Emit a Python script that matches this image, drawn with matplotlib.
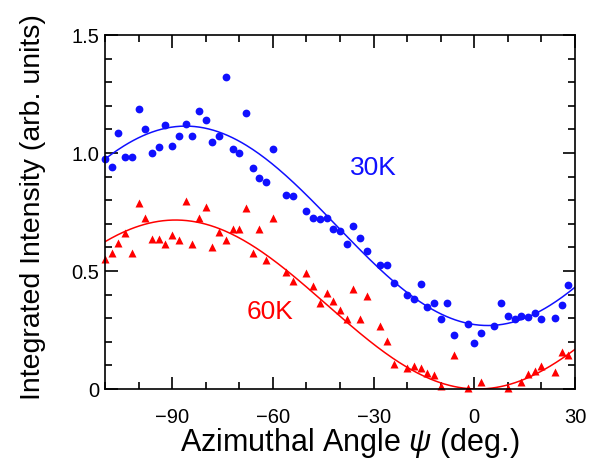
import numpy as np
import matplotlib
matplotlib.use("Agg")
import matplotlib.pyplot as plt
from matplotlib.ticker import MultipleLocator

plt.rcParams['font.family'] = ['Liberation Sans', 'DejaVu Sans']
plt.rcParams['mathtext.fontset'] = 'custom'
plt.rcParams['mathtext.it'] = 'Liberation Sans:italic'

#%% data
psi_30k = [-110, -108, -106, -104, -102, -100, -98, -96, -94, -92, -90, -88, -86, -84,
           -82, -80, -78, -76, -74, -72, -70, -68, -66, -64, -62, -60, -56, -54, -50,
           -48, -46, -44, -42, -40, -38, -36, -34, -32, -28, -26, -24, -20, -18, -16,
           -14, -12, -10, -8, -6, -2, 0, 2, 6, 8, 10, 12, 14, 16, 18, 20, 24, 26, 28]
int_30k = [0.975, 0.941, 1.086, 0.983, 0.983, 1.188, 1.102, 1.000, 1.027, 1.119, 1.031,
           1.072, 1.124, 1.072, 1.179, 1.140, 1.048, 1.071, 1.323, 1.018, 1.001, 1.168,
           0.935, 0.894, 0.876, 1.018, 0.822, 0.819, 0.754, 0.723, 0.720, 0.723, 0.677,
           0.671, 0.614, 0.691, 0.639, 0.586, 0.525, 0.525, 0.448, 0.400, 0.381, 0.447,
           0.346, 0.366, 0.295, 0.366, 0.228, 0.274, 0.194, 0.236, 0.268, 0.364, 0.309,
           0.295, 0.308, 0.304, 0.321, 0.295, 0.301, 0.356, 0.441]

psi_60k = [-110, -108, -106, -104, -102, -100, -98, -96, -94, -92, -90, -88, -86, -84,
           -82, -80, -78, -76, -74, -72, -70, -68, -66, -64, -62, -60, -56, -54, -50,
           -48, -46, -44, -42, -40, -38, -36, -34, -32, -28, -26, -24, -20, -18, -16,
           -14, -12, -10, -6, -2, 2, 10, 14, 16, 18, 20, 24, 26, 28]
int_60k = [0.550, 0.575, 0.617, 0.660, 0.578, 0.787, 0.723, 0.634, 0.634, 0.614, 0.653,
           0.631, 0.797, 0.614, 0.726, 0.772, 0.600, 0.667, 0.631, 0.678, 0.678, 0.767,
           0.578, 0.678, 0.547, 0.726, 0.497, 0.458, 0.493, 0.438, 0.363, 0.406, 0.374,
           0.335, 0.297, 0.424, 0.297, 0.395, 0.268, 0.203, 0.106, 0.090, 0.099, 0.090,
           0.067, 0.059, 0.014, 0.144, 0.006, 0.031, 0.006, 0.031, 0.062, 0.076, 0.097,
           0.071, 0.156, 0.144]

# fitted cos(2psi) curves: offset, amplitude, angle of maximum
fit_30k = (0.6915, 0.4225, -86.0)
fit_60k = (0.358, 0.358, -89.0)

x_ticks = [-90, -60, -30, 0, 30]
y_ticks = [0, 0.5, 1.0, 1.5]
y_tick_labels = ['0', '0.5', '1.0', '1.5']


#%%
def cos2_curve(params, psi):
    a, b, psi0 = params
    return a + b * np.cos(np.radians(2 * (psi - psi0)))


#%%
fig = plt.figure(figsize=(6.09, 4.68), dpi=100)
ax = fig.add_axes([0.1724, 0.1688, 0.7718, 0.7564])

grid = np.linspace(-110, 30, 300)
ax.plot(grid, cos2_curve(fit_30k, grid), color='#1010ff', lw=1.1)
ax.plot(grid, cos2_curve(fit_60k, grid), color='#ff0000', lw=1.1)
ax.plot(psi_30k, int_30k, 'o', color='#1010ff', ms=5.6, mec='none', clip_on=False)
ax.plot(psi_60k, int_60k, '^', color='#ff0000', ms=6.4, mec='none', clip_on=False)

ax.text(-30.2, 0.936, '30K', color='#1010ff', fontsize=19, ha='center', va='center')
ax.text(-60.9, 0.326, '60K', color='#ff0000', fontsize=19, ha='center', va='center')

ax.set_xlim(-110, 30)
ax.set_ylim(0, 1.5)
ax.set_xticks(x_ticks)
ax.set_yticks(y_ticks)
ax.set_yticklabels(y_tick_labels)
ax.xaxis.set_minor_locator(MultipleLocator(10))
ax.yaxis.set_minor_locator(MultipleLocator(0.1))
ax.tick_params(which='both', direction='in', top=True, right=True, width=1.2,
               labelsize=14.5)
ax.tick_params(which='major', length=9)
ax.tick_params(which='minor', length=4.8)
ax.tick_params(axis='x', pad=14)
ax.tick_params(axis='y', pad=4)
for s in ax.spines.values():
    s.set_linewidth(1.2)

ax.set_xlabel(r'Azimuthal Angle $\mathit{\psi}$ (deg.)', fontsize=22)
ax.set_ylabel('Integrated Intensity (arb. units)', fontsize=20.5)
ax.xaxis.set_label_coords(0.52, -0.105)
ax.yaxis.set_label_coords(-0.125, 0.515)

fig.savefig('out.png', dpi=100)
